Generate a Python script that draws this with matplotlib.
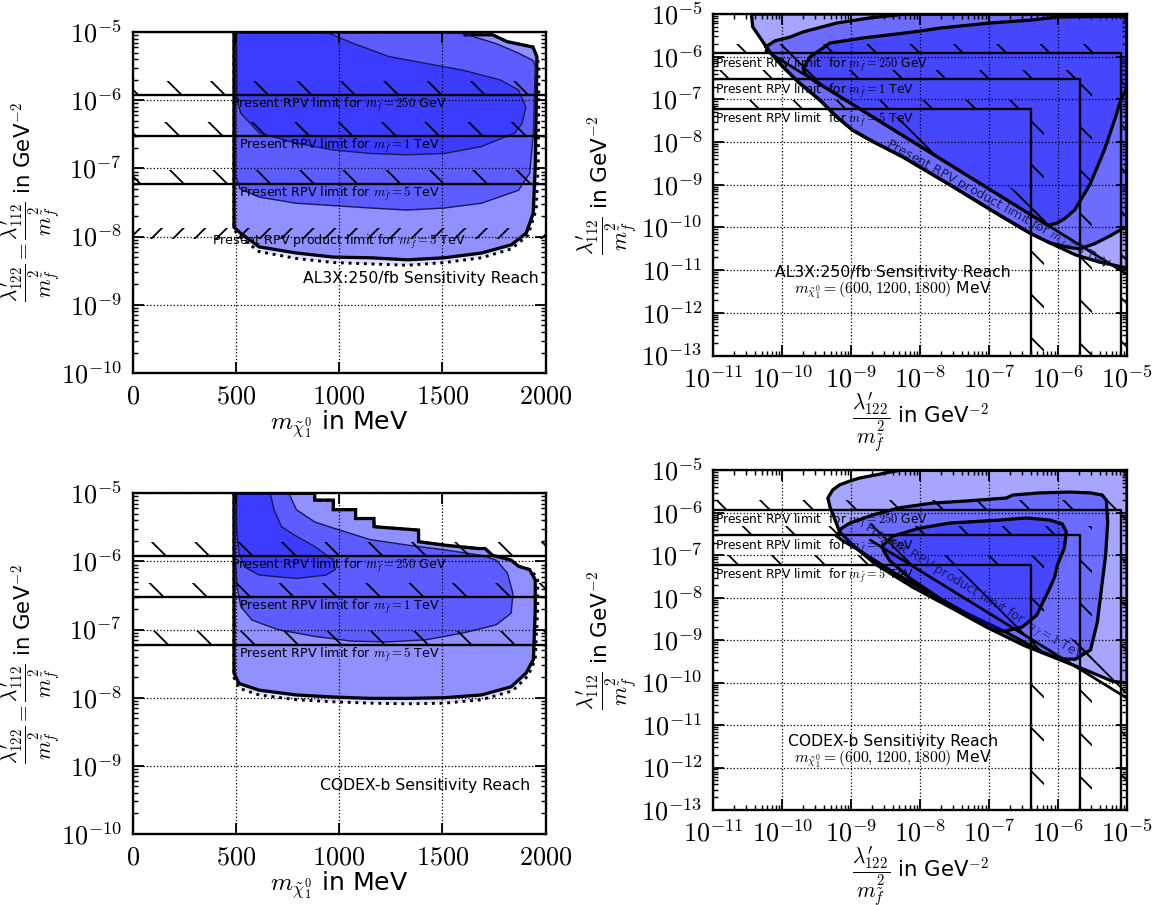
import numpy as np
import matplotlib
matplotlib.use('Agg')
import matplotlib.pyplot as plt
from matplotlib.ticker import FuncFormatter, FixedLocator, NullFormatter

plt.rcParams['mathtext.fontset'] = 'cm'
plt.rcParams['font.family'] = ['DejaVu Sans']
plt.rcParams['xtick.direction'] = 'in'
plt.rcParams['ytick.direction'] = 'in'
plt.rcParams['xtick.top'] = True
plt.rcParams['ytick.right'] = True
plt.rcParams['axes.linewidth'] = 1.3
plt.rcParams['hatch.linewidth'] = 1.0

# ---- present single-coupling limits (GeV^-2), for 250 GeV, 1 TeV, 5 TeV sfermions
limit_nums = ['250', '1', '5']
limit_units = ['GeV', 'TeV', 'TeV']
limits_112 = [1.2e-6, 3.0e-7, 6.0e-8]
limits_122 = [8.2e-6, 2.05e-6, 4.1e-7]

mass_ticks = [0, 500, 1000, 1500, 2000]
mass_decades = [-10, -9, -8, -7, -6, -5]
plane_x_decades = [-11, -10, -9, -8, -7, -6, -5]
plane_y_decades = [-13, -12, -11, -10, -9, -8, -7, -6, -5]

# ---- AL3X, coupling vs neutralino mass (MeV, log10 coupling)
al3x_dot_m = [491, 491, 530, 613, 793, 972, 1151, 1330, 1510, 1690, 1834, 1915, 1955, 1965, 1968, 1958, 1939, 1813, 1743, 1610, 1600]
al3x_dot_y = [-5.0, -7.9, -8.03, -8.22, -8.32, -8.38, -8.40, -8.42, -8.38, -8.31, -8.18, -7.98, -7.6, -6.9, -5.5, -5.36, -5.22, -5.14, -5.04, -5.04, -5.0]
al3x_out_m = [491, 491, 523, 613, 793, 972, 1151, 1330, 1510, 1690, 1834, 1906, 1940, 1950, 1955, 1958, 1939, 1813, 1743, 1610, 1600]
al3x_out_y = [-5.0, -7.86, -7.95, -8.15, -8.24, -8.30, -8.31, -8.34, -8.31, -8.24, -8.12, -7.95, -7.66, -6.97, -6.0, -5.36, -5.22, -5.14, -5.04, -5.04, -5.0]
al3x_mid_m = [499, 499, 520, 613, 793, 1151, 1330, 1510, 1690, 1869, 1923, 1941, 1950, 1941, 1869, 1761, 1600]
al3x_mid_y = [-5.0, -7.1, -7.3, -7.42, -7.51, -7.58, -7.61, -7.58, -7.51, -7.32, -7.07, -6.49, -5.51, -5.42, -5.31, -5.17, -5.02]
al3x_in_m = [503, 937, 1063, 1242, 1421, 1600, 1779, 1869, 1905, 1886, 1852, 1688, 1510, 1330, 1151, 972, 793, 613, 524, 505]
al3x_in_y = [-5.0, -5.0, -5.16, -5.36, -5.46, -5.56, -5.70, -5.85, -6.10, -6.34, -6.48, -6.68, -6.78, -6.80, -6.78, -6.73, -6.63, -6.48, -6.19, -6.0]

# ---- CODEX-b, coupling vs neutralino mass
codex_dot_m = [491, 491, 515, 613, 793, 972, 1151, 1331, 1510, 1689, 1840, 1915, 1950, 1962, 1962, 1950, 1923, 1869, 1833, 1743, 1707,
               1672, 1510, 1385, 1385, 1169, 1169, 1080, 1080, 972, 972, 882, 882]
codex_dot_y = [-5.0, -7.7, -7.86, -7.96, -8.03, -8.06, -8.08, -8.09, -8.08, -8.03, -7.9, -7.68, -7.44, -6.7, -6.27, -6.2, -6.12, -6.07, -5.98, -5.91, -5.81,
               -5.81, -5.76, -5.71, -5.54, -5.49, -5.37, -5.37, -5.24, -5.24, -5.10, -5.10, -5.0]
codex_out_m = [491, 491, 515, 613, 793, 972, 1151, 1331, 1510, 1689, 1833, 1905, 1941, 1950, 1950, 1923, 1869, 1833, 1743, 1707,
               1672, 1510, 1385, 1385, 1169, 1169, 1080, 1080, 972, 972, 882, 882]
codex_out_y = [-5.0, -7.64, -7.79, -7.89, -7.96, -7.99, -8.01, -8.01, -8.0, -7.96, -7.84, -7.64, -7.44, -6.71, -6.27, -6.12, -6.07, -5.98, -5.91, -5.81,
               -5.81, -5.76, -5.71, -5.54, -5.49, -5.37, -5.37, -5.24, -5.24, -5.10, -5.10, -5.0]
codex_mid_m = [497, 497, 506, 524, 578, 703, 882, 1062, 1241, 1421, 1600, 1761, 1833, 1842, 1815, 1761, 1689, 1510, 1331, 1151, 972, 882, 793, 757]
codex_mid_y = [-5.0, -5.98, -6.37, -6.66, -6.86, -7.0, -7.10, -7.17, -7.18, -7.15, -7.05, -6.93, -6.76, -6.47, -6.17, -5.98, -5.91, -5.83, -5.76, -5.68, -5.51, -5.42, -5.24, -5.0]
codex_in_m = [503, 503, 515, 542, 613, 793, 936, 981, 972, 882, 793, 721, 685, 667]
codex_in_y = [-5.0, -5.49, -5.88, -6.08, -6.2, -6.25, -6.2, -6.12, -5.98, -5.78, -5.63, -5.49, -5.24, -5.0]

# ---- AL3X, lambda'_122 vs lambda'_112 plane (log10 values) for 600 / 1200 / 1800 MeV
al3x_a_x = [-10.45, -10.43, -10.30, -10.18, -9.99, -9.75, -9.46, -9.21, -8.98, -8.73, -8.25, -7.57, -6.85, -6.41, -6.12, -5.75, -5.40, -5.0, -5.0]
al3x_a_y = [-5.0, -5.30, -5.61, -5.89, -6.24, -6.62, -7.01, -7.41, -7.72, -7.95, -8.35, -9.0, -9.71, -10.13, -10.36, -10.64, -10.81, -10.95, -5.0]
al3x_b_x = [-8.20, -8.73, -9.21, -9.70, -9.89, -10.11, -10.24, -10.18, -9.99, -9.75, -9.46, -9.21, -8.98, -8.73, -8.25, -7.57, -6.85, -6.41,
            -6.12, -5.83, -5.69, -5.47, -5.25, -5.0, -5.0]
al3x_b_y = [-5.0, -5.09, -5.21, -5.42, -5.54, -5.63, -5.77, -5.89, -6.24, -6.62, -7.01, -7.41, -7.72, -7.95, -8.35, -9.0, -9.71, -10.13,
            -10.36, -10.47, -10.50, -10.38, -10.20, -9.97, -5.0]
al3x_c_x = [-9.70, -9.60, -9.31, -8.83, -8.25, -8.01, -7.72, -6.99, -6.37, -6.02, -5.0, -5.0, -5.09, -5.18, -5.33, -5.54, -5.76, -5.91,
            -6.02, -6.15, -6.41, -6.85, -7.57, -8.30, -9.02, -9.60, -9.67]
al3x_c_y = [-6.27, -6.01, -5.68, -5.56, -5.45, -5.40, -5.33, -5.21, -5.14, -5.07, -5.05, -6.73, -7.01, -7.48, -8.19, -9.0, -9.59, -9.80,
            -9.90, -9.95, -9.69, -9.25, -8.53, -7.80, -7.08, -6.50, -6.40]
al3x_prod_x = [5.8e-11, 1e-5]
al3x_prod_y = [1.38e-6, 8e-12]

# ---- CODEX-b, coupling plane
codex_a_x = [-9.34, -9.27, -9.17, -9.02, -8.88, -8.66, -8.44, -8.30, -5.0, -5.0, -5.21, -5.53, -5.96, -6.50, -7.04, -7.57, -8.11, -8.65,
             -8.95, -9.17, -9.25, -9.31]
codex_a_y = [-5.65, -5.46, -5.34, -5.25, -5.18, -5.11, -5.04, -5.0, -5.0, -10.01, -9.97, -9.75, -9.47, -9.12, -8.69, -8.22, -7.75, -7.21,
             -6.80, -6.45, -6.10, -5.86]
codex_b_x = [-9.21, -9.14, -9.02, -8.69, -8.30, -7.82, -7.33, -6.75, -6.66, -6.27, -5.83, -5.53, -5.36, -5.30, -5.28, -5.31, -5.37, -5.43,
             -5.53, -5.75, -5.96, -6.23, -6.76, -7.30, -7.83, -8.37, -8.91, -9.12]
codex_b_y = [-6.55, -6.36, -6.24, -6.05, -5.88, -5.77, -5.72, -5.65, -5.58, -5.53, -5.51, -5.53, -5.58, -5.70, -6.22, -6.99, -7.77, -8.57,
             -9.23, -9.45, -9.44, -9.28, -8.81, -8.39, -7.92, -7.42, -6.86, -6.66]
codex_c_x = [-8.55, -8.40, -8.01, -7.57, -6.85, -6.46, -6.12, -5.94, -5.88, -5.91, -6.01, -6.05, -6.12, -6.31, -6.52, -6.78, -6.95,
             -7.28, -7.72, -8.15, -8.44, -8.53]
codex_c_y = [-6.78, -6.55, -6.36, -6.24, -6.17, -6.12, -6.17, -6.26, -6.45, -6.83, -7.23, -7.51, -7.77, -8.41, -8.69, -8.79, -8.76,
             -8.46, -8.01, -7.54, -7.13, -6.90]
codex_prod_x = [1.9e-9, 1e-5]
codex_prod_y = [2.26e-7, 4.3e-11]

BLUE = (0.0, 0.0, 1.0, 0.35)
FRAC = r"\dfrac{\lambda^{\prime}_{%s}}{m_{\tilde{f}}^2}"


def log_fmt(v, pos):
    return r'$10^{%d}$' % int(round(np.log10(v)))


def limit_label(num, unit):
    return r'Present RPV limit for $m_{\tilde{f}} = %s$ %s' % (num, unit)


def set_log_ticks(axis, decades):
    axis.set_major_locator(FixedLocator([10.0 ** d for d in decades]))
    axis.set_minor_locator(FixedLocator([k * 10.0 ** d for d in decades[:-1] for k in range(2, 10)]))
    axis.set_minor_formatter(NullFormatter())
    axis.set_major_formatter(FuncFormatter(log_fmt))


def style_axes(ax):
    ax.tick_params(which='major', length=6, width=1.0, labelsize=14.5, pad=6)
    ax.tick_params(which='minor', length=3, width=0.8)
    ax.grid(True, which='major', linestyle=':', color='k', linewidth=0.7)
    ax.set_axisbelow(False)


def mass_panel(ax, dot, out, mid, inn, title, title_pos, product):
    ax.set_xlim(0, 2000)
    ax.set_yscale('log')
    ax.set_ylim(1e-10, 1e-5)
    ax.fill(dot[0], 10.0 ** np.array(dot[1]), facecolor=(0, 0, 1, 0.13), edgecolor='k', linestyle=':', lw=1.6, zorder=1)
    ax.fill(out[0], 10.0 ** np.array(out[1]), facecolor=BLUE, edgecolor='k', lw=1.8, zorder=2)
    ax.fill(mid[0], 10.0 ** np.array(mid[1]), facecolor=BLUE, edgecolor='#1a1a5a', lw=0.8, zorder=2)
    ax.fill(inn[0], 10.0 ** np.array(inn[1]), facecolor=BLUE, edgecolor='#1a1a5a', lw=0.8, zorder=2)
    for num, unit, lim in zip(limit_nums, limit_units, limits_112):
        ax.fill_between([0, 2000], lim, lim * 1.6, facecolor='none', edgecolor='k', hatch='\\', linewidth=0, zorder=3)
        ax.axhline(lim, color='k', lw=1.3, zorder=4)
        ax.text(1000, lim * 0.97, limit_label(num, unit), ha='center', va='top', fontsize=7, zorder=5)
    if product:
        ax.fill_between([0, 2000], 9.3e-9, 1.35e-8, facecolor='none', edgecolor='k', hatch='//', linewidth=0, zorder=3)
        ax.text(1000, 8.3e-9, r'Present RPV product limit for $m_{\tilde{f}} = 5$ TeV', ha='center', va='center',
                fontsize=7, zorder=5)
    ax.text(title_pos[0], title_pos[1], title, ha='right', va='center', fontsize=8.7, zorder=5)
    ax.xaxis.set_major_locator(FixedLocator(mass_ticks))
    ax.xaxis.set_major_formatter(FuncFormatter(lambda v, p: r'$%d$' % v))
    set_log_ticks(ax.yaxis, mass_decades)
    style_axes(ax)
    ax.set_xlabel(r'$m_{\tilde{\chi}_1^0}$ in MeV', fontsize=14, labelpad=-1)
    ax.set_ylabel('$' + FRAC % '122' + ' = ' + FRAC % '112' + '$ in GeV$^{-2}$', fontsize=11.8)
    ax.yaxis.set_label_coords(-0.17, 0.5)


def plane_panel(ax, regions, prod, prod_k, prod_text, prod_xy, prod_rot, title, title_xy):
    ax.set_xscale('log')
    ax.set_yscale('log')
    ax.set_xlim(1e-11, 1e-5)
    ax.set_ylim(1e-13, 1e-5)
    for rx, ry in regions:
        ax.fill(10.0 ** np.array(rx), 10.0 ** np.array(ry), facecolor=BLUE, edgecolor='k', lw=1.8, zorder=2)
    # product limit, hatched strip above the line
    px, py = prod
    ax.fill([px[0], px[1], px[1], px[0]], [py[0], py[1], py[1] * prod_k, py[0] * prod_k],
            facecolor='none', edgecolor='k', hatch='\\', linewidth=0, zorder=3)
    ax.plot(px, py, color='k', lw=1.5, zorder=4)
    ax.text(prod_xy[0], prod_xy[1], prod_text, rotation=prod_rot, ha='center', va='center',
            fontsize=7, color='#1a1a5a', zorder=5, rotation_mode='anchor')
    for num, unit, ly, lx in zip(limit_nums, limit_units, limits_112, limits_122):
        ax.fill([1e-11, lx, lx, lx * 1.5, lx * 1.5, 1e-11], [ly, ly, 1e-13, 1e-13, ly * 1.65, ly * 1.65],
                facecolor='none', edgecolor='k', hatch='\\', linewidth=0, zorder=3)
        ax.plot([1e-11, lx, lx], [ly, ly, 1e-13], color='k', lw=1.3, zorder=4)
        ax.text(1.05e-11, ly * 0.92, limit_label(num, unit).replace('limit for', 'limit  for'),
                ha='left', va='top', fontsize=6.8, zorder=5)
    ax.text(title_xy[0], title_xy[1], title, ha='center', va='center', fontsize=8.7, zorder=5)
    ax.text(title_xy[0], title_xy[1] / 2.6, r'$m_{\tilde{\chi}_1^0} = (600, 1200, 1800)$ MeV', ha='center', va='center',
            fontsize=8.7, zorder=5)
    set_log_ticks(ax.xaxis, plane_x_decades)
    set_log_ticks(ax.yaxis, plane_y_decades)
    style_axes(ax)
    ax.set_xlabel('$' + FRAC % '122' + '$ in GeV$^{-2}$', fontsize=11.8)
    ax.xaxis.set_label_coords(0.5, -0.1)
    ax.set_ylabel('$' + FRAC % '112' + '$ in GeV$^{-2}$', fontsize=12)
    ax.yaxis.set_label_coords(-0.18, 0.5)


fig = plt.figure(figsize=(1165 / 130, 905 / 130), dpi=130)
ax_tl = fig.add_axes([0.1138, 0.5878, 0.3545, 0.3768])
ax_bl = fig.add_axes([0.1138, 0.0785, 0.3545, 0.3764])
ax_tr = fig.add_axes([0.6124, 0.6071, 0.3550, 0.3774])
ax_br = fig.add_axes([0.6124, 0.1050, 0.3550, 0.3752])

mass_panel(ax_tl, (al3x_dot_m, al3x_dot_y), (al3x_out_m, al3x_out_y), (al3x_mid_m, al3x_mid_y),
           (al3x_in_m, al3x_in_y), 'AL3X:250/fb Sensitivity Reach', (1968, 2.4e-9), True)
mass_panel(ax_bl, (codex_dot_m, codex_dot_y), (codex_out_m, codex_out_y), (codex_mid_m, codex_mid_y),
           (codex_in_m, codex_in_y), 'CODEX-b Sensitivity Reach', (1924, 5.1e-10), False)

plane_panel(ax_tr, [(al3x_a_x, al3x_a_y), (al3x_b_x, al3x_b_y), (al3x_c_x, al3x_c_y)],
            (al3x_prod_x, al3x_prod_y), 2.2, r'Present RPV product limit for $m_{\tilde{f}} = 5$ TeV',
            (1.3e-7, 3.2e-10), -29, 'AL3X:250/fb Sensitivity Reach', (4e-9, 9e-12))
plane_panel(ax_br, [(codex_a_x, codex_a_y), (codex_b_x, codex_b_y), (codex_c_x, codex_c_y)],
            (codex_prod_x, codex_prod_y), 4.0, r'Present RPV product limit for $m_{\tilde{f}} = 1$ TeV',
            (6e-8, 1.3e-8), -31, 'CODEX-b Sensitivity Reach', (4e-9, 4e-12))

fig.savefig('out.png', dpi=130)
